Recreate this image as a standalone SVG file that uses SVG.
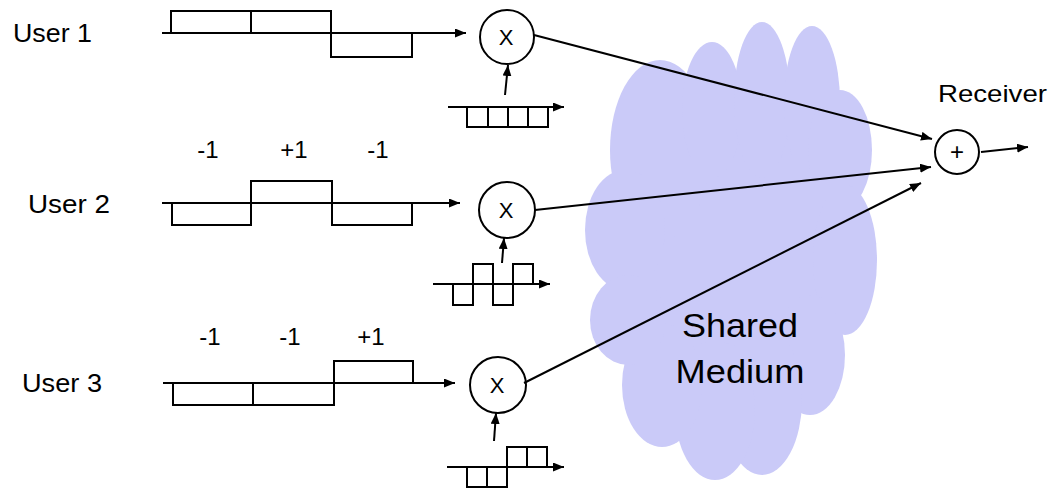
<svg xmlns="http://www.w3.org/2000/svg" width="1051" height="489" viewBox="0 0 1051 489">
<style>
.w{fill:none;stroke:#000;stroke-width:2}
.c{fill:#fff;stroke:#000;stroke-width:2}
.t{font-family:"Liberation Sans",Arial,sans-serif;fill:#000}
.lab{font-size:25px}
.val{font-size:24px;text-anchor:middle}
.x{font-size:22px;text-anchor:middle}
.cl{fill:#cacaf8}
</style>
<defs>
<marker id="ah" markerUnits="userSpaceOnUse" markerWidth="12" markerHeight="10" refX="11" refY="4.5" orient="auto">
<path d="M0,0 L11,4.5 L0,9 z" fill="#000"/>
</marker>
</defs>
<rect width="1051" height="489" fill="#fff"/>
<g id="cloud">
<ellipse class="cl" cx="730" cy="250" rx="120" ry="170"/>
<ellipse class="cl" cx="660" cy="150" rx="50" ry="90"/>
<ellipse class="cl" cx="712" cy="110" rx="30" ry="68"/>
<ellipse class="cl" cx="762" cy="100" rx="28" ry="78"/>
<ellipse class="cl" cx="812" cy="102" rx="28" ry="76"/>
<ellipse class="cl" cx="840" cy="150" rx="32" ry="60"/>
<ellipse class="cl" cx="845" cy="260" rx="32" ry="75"/>
<ellipse class="cl" cx="810" cy="355" rx="35" ry="60"/>
<ellipse class="cl" cx="762" cy="400" rx="40" ry="75"/>
<ellipse class="cl" cx="715" cy="410" rx="40" ry="70"/>
<ellipse class="cl" cx="662" cy="385" rx="40" ry="62"/>
<ellipse class="cl" cx="625" cy="230" rx="40" ry="60"/>
<ellipse class="cl" cx="628" cy="320" rx="38" ry="45"/>
<text class="t" x="740" y="337" style="font-size:34px" text-anchor="middle" textLength="116" lengthAdjust="spacingAndGlyphs">Shared</text>
<text class="t" x="740" y="383" style="font-size:34px" text-anchor="middle" textLength="129" lengthAdjust="spacingAndGlyphs">Medium</text>
</g>
<g id="user1">
<text class="t lab" x="13" y="42" textLength="79" lengthAdjust="spacingAndGlyphs">User 1</text>
<path class="w" d="M171,33 V11 H331 V57 H412 V33 M251,11 V33"/>
</g>
<g id="user2">
<text class="t lab" x="28" y="213" textLength="82" lengthAdjust="spacingAndGlyphs">User 2</text>
<text class="t val" x="208" y="158">-1</text>
<text class="t val" x="294" y="158">+1</text>
<text class="t val" x="378" y="158">-1</text>
<path class="w" d="M172,203 V225 H251 V181 H332 V225 H412 V203"/>
</g>
<g id="user3">
<text class="t lab" x="22" y="392" textLength="80" lengthAdjust="spacingAndGlyphs">User 3</text>
<text class="t val" x="210" y="345">-1</text>
<text class="t val" x="290" y="345">-1</text>
<text class="t val" x="371" y="345">+1</text>
<path class="w" d="M173,383 V405 H334 V361 H413 V383 M253,383 V405"/>
</g>
<g id="code1">
<path class="w" d="M467,107 V127 H548 V107 M488,107 V127 M508,107 V127 M528,107 V127"/>
</g>
<g id="code2">
<path class="w" d="M453,284 V305 H473 V264 H493 V305 H513 V264 H533 V284"/>
</g>
<g id="code3">
<path class="w" d="M467,467 V487 H507 V447 H547 V467 M487,467 V487 M527,447 V467"/>
</g>
<g id="mult1">
<circle class="c" cx="507" cy="37" r="27"/>
<text class="t x" x="506" y="45">X</text>
</g>
<g id="mult2">
<circle class="c" cx="507" cy="210" r="28"/>
<text class="t x" x="506" y="218">X</text>
</g>
<g id="mult3">
<circle class="c" cx="498" cy="385" r="28"/>
<text class="t x" x="497" y="393">X</text>
</g>
<g id="receiver">
<circle class="c" cx="957" cy="152" r="22"/>
<text class="t x" x="957" y="160" style="font-size:24px">+</text>
<text class="t" x="938" y="102" style="font-size:24px" textLength="109" lengthAdjust="spacingAndGlyphs">Receiver</text>
</g>
<g id="connectors" class="w" marker-end="url(#ah)">
<line x1="162" y1="33" x2="466" y2="33"/>
<line x1="162" y1="203" x2="460" y2="203"/>
<line x1="163" y1="383" x2="455" y2="383"/>
<line x1="448" y1="107" x2="564" y2="107"/>
<line x1="433" y1="284" x2="550" y2="284"/>
<line x1="447" y1="467" x2="564" y2="467"/>
<line x1="505" y1="95" x2="508" y2="65"/>
<line x1="502" y1="263" x2="504" y2="238"/>
<line x1="494" y1="441" x2="496" y2="413"/>
<line x1="534" y1="35" x2="932" y2="139"/>
<line x1="535" y1="210" x2="931" y2="167"/>
<line x1="524" y1="383" x2="921" y2="183"/>
<line x1="981" y1="152" x2="1028" y2="147"/>
</g>
</svg>
